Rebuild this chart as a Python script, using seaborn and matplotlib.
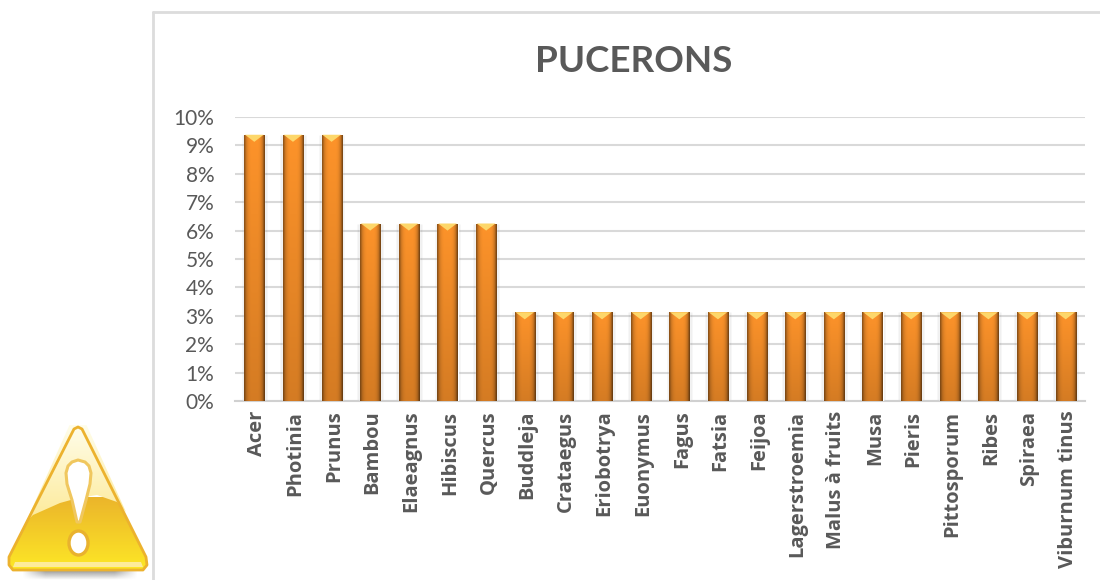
#!/usr/bin/env python3
# -*- coding: utf-8 -*-
"""Bar chart PUCERONS with the warning icon on the left."""

import numpy as np
import pandas as pd
import matplotlib
matplotlib.use("Agg")
import matplotlib.pyplot as plt
from matplotlib.colors import to_rgb
from matplotlib.lines import Line2D
from matplotlib.patches import Polygon, Ellipse
from matplotlib.ticker import PercentFormatter
from matplotlib.transforms import ScaledTranslation
import seaborn as sns

plants = ["Acer", "Photinia", "Prunus", "Bambou", "Elaeagnus", "Hibiscus", "Quercus",
          "Buddleja", "Crataegus", "Eriobotrya", "Euonymus", "Fagus", "Fatsia", "Feijoa",
          "Lagerstroemia", "Malus à fruits", "Musa", "Pieris", "Pittosporum", "Ribes",
          "Spiraea", "Viburnum tinus"]
shares = [0.09375, 0.09375, 0.09375, 0.0625, 0.0625, 0.0625, 0.0625,
          0.03125, 0.03125, 0.03125, 0.03125, 0.03125, 0.03125, 0.03125,
          0.03125, 0.03125, 0.03125, 0.03125, 0.03125, 0.03125, 0.03125, 0.03125]
y_ticks = [0, 0.01, 0.02, 0.03, 0.04, 0.05, 0.06, 0.07, 0.08, 0.09, 0.10]
title = "PUCERONS"

W, H = 1100, 580
TEXT = "#595959"

sns.set_theme(style="white")
plt.rcParams["font.family"] = ["Lato", "DejaVu Sans"]

df = pd.DataFrame({"plant": plants, "share": shares})

fig = plt.figure(figsize=(W / 100, H / 100), dpi=100)
ax = fig.add_axes([235 / W, 1 - 401 / H, 850 / W, 284 / H])

sns.barplot(data=df, x="plant", y="share", color="#f98f27", width=0.52, ax=ax, zorder=3)

ax.set_ylim(0, 0.10)
ax.set_xlim(-0.5, len(plants) - 0.5)
ax.set_yticks(y_ticks)
ax.yaxis.set_major_formatter(PercentFormatter(1.0, decimals=0))
ax.set_xlabel("")
ax.set_ylabel("")
ax.grid(axis="y", color="#d9d9d9", lw=1.5, zorder=0)
ax.set_axisbelow(True)
sns.despine(ax=ax, left=True, bottom=False, top=True, right=True)
ax.spines["bottom"].set_color("#d0d0d0")
ax.spines["bottom"].set_linewidth(1.5)
ax.tick_params(axis="y", length=0, labelsize=15, labelcolor=TEXT, pad=15)
ax.tick_params(axis="x", length=0, labelsize=14.5, labelcolor=TEXT, pad=7)

# gradient fill for the bars (Excel style bevel)
xprof = np.array([0.55, 0.85, 0.96, 1.0, 1.0, 1.0, 1.0, 0.96, 0.82, 0.45])
xprof = np.interp(np.linspace(0, 9, 40), np.arange(10), xprof)
yprof = np.linspace(0.84, 1.0, 60)[:, None]
base = np.array(to_rgb("#fd932a"))
shade = (yprof * xprof)[..., None] * base

for bar in list(ax.patches):
    x0, w, h = bar.get_x(), bar.get_width(), bar.get_height()
    im = ax.imshow(shade, extent=[x0, x0 + w, 0, h], origin="lower", aspect="auto",
                   zorder=4, interpolation="bilinear")
    im.set_clip_path(bar)
    # little yellow bevel on top of the bar
    ax.add_patch(Polygon([[x0 + 0.02, h], [x0 + w - 0.02, h], [x0 + w / 2, h - 0.0025]], closed=True,
                         facecolor="#fdd76a", edgecolor="none", zorder=5))
    # soft shadow left and right
    ax.bar(x0 + w / 2, h, width=w + 0.14, color="#000000", alpha=0.06, zorder=2)

ax.set_xlim(-0.5, len(plants) - 0.5)
ax.set_ylim(0, 0.10)

# labels are set last, the extra bars above reset the tick text style
ax.set_xticks(range(len(plants)))
ax.set_xticklabels(plants, rotation=90, fontweight="bold", ha="center", va="top",
                   family=["Open Sans", "DejaVu Sans"])
nudge = ScaledTranslation(2.5 / 100, 0, fig.dpi_scale_trans)
for lab in ax.get_xticklabels():
    lab.set_transform(lab.get_transform() + nudge)

fig.text(634 / W, 1 - 62 / H, title, fontsize=26.5, fontweight="bold", color=TEXT,
         ha="center", va="center")

# chart frame, only the left and top edges are visible
frame = dict(color="#dcdcdc", lw=2, transform=fig.transFigure)
fig.add_artist(Line2D([153 / W, 153 / W], [0, 1 - 12 / H], **frame))
fig.add_artist(Line2D([153 / W, 1], [1 - 12 / H, 1 - 12 / H], **frame))

# warning icon, drawn in pixel coordinates
icon = fig.add_axes([0, 0, 153 / W, 1], zorder=6)

# shadow below the triangle
sy = np.linspace(0.75, 0, 20)[:, None]
sx = np.clip(np.minimum(np.linspace(0, 5, 120), np.linspace(5, 0, 120)), 0, 1)[None, :]
shadow = np.zeros((20, 120, 4))
shadow[..., :3] = 0.4
shadow[..., 3] = sy * sx
icon.imshow(shadow, extent=[22, 138, 580, 569], aspect="auto", zorder=1)

outline = [[74, 429], [78, 427], [82, 429], [146, 557], [147, 565], [143, 570],
           [13, 570], [9, 565], [9, 557]]
tri = Polygon(outline, closed=True, facecolor="none", edgecolor="#ecb22e", lw=2,
              joinstyle="round", zorder=2.5)
icon.add_patch(tri)

g = np.linspace(0, 1, 80)[:, None, None]
dark = icon.imshow(np.array(to_rgb("#ebb52b")) * (1 - g) + np.array(to_rgb("#fde726")) * g,
                   extent=[5, 150, 570, 497], aspect="auto", zorder=1.5)
dark.set_clip_path(tri)

# lighter top part, its lower edge curves across the triangle
top_part = Polygon([[70, 424], [86, 424], [126, 512], [117, 502], [97, 495], [78, 498],
                    [60, 503], [33, 515], [26, 522]], closed=True, facecolor="none",
                   edgecolor="none", zorder=1.6)
icon.add_patch(top_part)
g2 = np.linspace(0, 1, 80)[:, None, None]
light = icon.imshow(np.array(to_rgb("#fffdea")) * (1 - g2) + np.array(to_rgb("#fdea98")) * g2,
                    extent=[5, 150, 522, 425], aspect="auto", zorder=1.6)
light.set_clip_path(top_part)

band = Polygon([[15, 562], [141, 562], [143, 567], [13, 567]], closed=True,
               facecolor="#fdeb9a", edgecolor="none", zorder=2)
icon.add_patch(band)

# exclamation mark
mark = [[66, 473], [68, 466], [72, 462], [78, 460], [85, 462], [89, 466], [91, 473], [90, 484],
        [86, 500], [80, 522], [77, 522], [72, 500], [67, 484]]
icon.add_patch(Polygon(mark, closed=True, facecolor="white", edgecolor="#f0c75e", lw=2.2,
                       joinstyle="round", zorder=3))
icon.add_patch(Ellipse((78.5, 543), 19, 24, facecolor="white", edgecolor="#e9b22e", lw=2.4, zorder=3))

icon.set_xlim(0, 153)
icon.set_ylim(H, 0)
icon.axis("off")

fig.savefig("out.png", dpi=100)
plt.close(fig)
